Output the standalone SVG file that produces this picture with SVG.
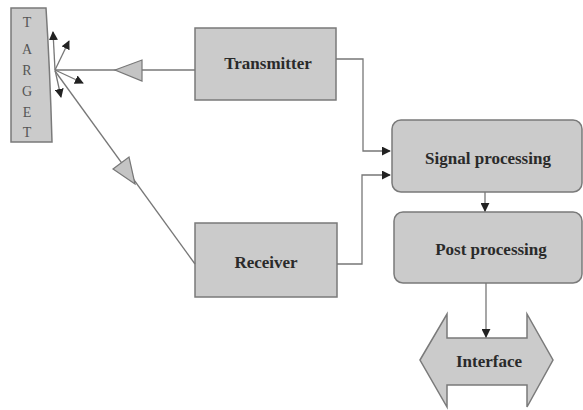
<svg xmlns="http://www.w3.org/2000/svg" width="583" height="410" viewBox="0 0 583 410">
<style>
.box{fill:#cbcbcb;stroke:#7a7a7a;stroke-width:1.5}
.lbl{font-family:"Liberation Serif",serif;font-weight:bold;font-size:17px;fill:#2a2a2a;text-anchor:middle}
.tl{font-family:"Liberation Serif",serif;font-size:14px;fill:#555;text-anchor:middle}
.ln{fill:none;stroke:#777;stroke-width:1.3}
.tri{fill:#c4c4c4;stroke:#777;stroke-width:1.2}
</style>
<defs>
<marker id="ah" viewBox="0 0 10 10" refX="9" refY="5" markerWidth="9" markerHeight="9" orient="auto" markerUnits="userSpaceOnUse">
<path d="M0,0 L10,5 L0,10 Z" fill="#222"/>
</marker>
<marker id="ahs" viewBox="0 0 10 10" refX="9" refY="5" markerWidth="9" markerHeight="9" orient="auto" markerUnits="userSpaceOnUse">
<path d="M0,0 L10,5 L0,10 Z" fill="#222"/>
</marker>
</defs>
<g id="target">
<path class="box" d="M11,8 L46,8 Q50,70 52,142 L11,142 Z"/>
<text class="tl" x="27" y="27">T</text>
<text class="tl" x="27" y="54">A</text>
<text class="tl" x="27" y="75">R</text>
<text class="tl" x="27" y="96">G</text>
<text class="tl" x="27" y="117">E</text>
<text class="tl" x="27" y="137">T</text>
</g>
<g id="transmitter">
<rect class="box" x="195" y="28" width="141" height="72"/>
<text class="lbl" x="268" y="69">Transmitter</text>
</g>
<g id="receiver">
<rect class="box" x="195" y="223" width="142" height="74"/>
<text class="lbl" x="266" y="268">Receiver</text>
</g>
<g id="signal">
<rect class="box" x="392" y="120" width="190" height="72" rx="9"/>
<text class="lbl" x="488" y="164">Signal processing</text>
</g>
<g id="post">
<rect class="box" x="394" y="212" width="188" height="71" rx="9"/>
<text class="lbl" x="491" y="255">Post processing</text>
</g>
<g id="interface">
<path class="box" d="M420,360 L447,314 L447,338 L527,338 L527,314 L553,360 L527,407 L527,385 L447,385 L447,407 Z"/>
<text class="lbl" x="489" y="367">Interface</text>
</g>
<g id="connectors">
<line class="ln" x1="195" y1="70" x2="55" y2="70"/>
<path class="tri" d="M115,70 L142,60 L142,81 Z"/>
<line class="ln" x1="55" y1="71" x2="195" y2="264"/>
<path class="tri" d="M135,184 L113,169 L129,157 Z"/>
<line class="ln" x1="55" y1="70" x2="53" y2="32" marker-end="url(#ah)"/>
<line class="ln" x1="55" y1="70" x2="69" y2="41" marker-end="url(#ah)"/>
<line class="ln" x1="55" y1="70" x2="83" y2="83" marker-end="url(#ah)"/>
<line class="ln" x1="55" y1="70" x2="61" y2="97" marker-end="url(#ah)"/>
<polyline class="ln" points="336,59 363,59 363,151 390,151" marker-end="url(#ahs)"/>
<polyline class="ln" points="337,264 362,264 362,175 390,175" marker-end="url(#ahs)"/>
<line class="ln" x1="485" y1="192" x2="485" y2="211" marker-end="url(#ahs)"/>
<line class="ln" x1="486" y1="283" x2="486" y2="337" marker-end="url(#ahs)"/>
</g>
</svg>
